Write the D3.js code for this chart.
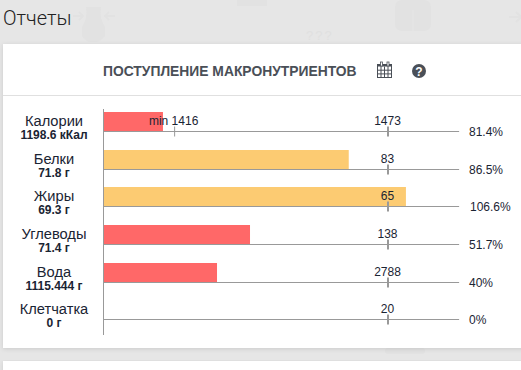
<!DOCTYPE html>
<html>
<head>
<meta charset="utf-8">
<script src="https://cdn.jsdelivr.net/npm/d3@7"></script>
<style>
  html, body { margin: 0; padding: 0; background: #e6e6e6; overflow: hidden; }
  text { font-family: "Liberation Sans", Arial, sans-serif; fill: #1a2433; }
</style>
</head>
<body>
<div id="chart"></div>
<script>
const categories = ['Калории', 'Белки', 'Жиры', 'Углеводы', 'Вода', 'Клетчатка'];
const intake = ['1198.6 кКал', '71.8 г', '69.3 г', '71.4 г', '1115.444 г', '0 г'];
const barPercent = [20.9, 86.2, 106.3, 51.5, 39.9, 0];
const percentLabels = ['81.4%', '86.5%', '106.6%', '51.7%', '40%', '0%'];
const targets = [1473, 83, 65, 138, 2788, 20];

const width = 521, height = 370;
const rowY = [131.5, 169.5, 206.5, 244.5, 282.5, 319.5];
const barH = 19.5;

const svg = d3.select('#chart').append('svg')
  .attr('width', width)
  .attr('height', height)
  .style('display', 'block');

const defs = svg.append('defs');
const blur = defs.append('filter').attr('id', 'shadow')
  .attr('x', '-5%').attr('y', '-5%').attr('width', '110%').attr('height', '110%');
blur.append('feDropShadow').attr('dx', 0).attr('dy', 1).attr('stdDeviation', 2)
  .attr('flood-color', '#000').attr('flood-opacity', 0.12);

// faint background icons
const bg = svg.append('g').attr('fill', '#e2e2e2');
bg.append('path').attr('d', 'M86 7 L101 7 Q99 18 105 27 L105 36 Q100 42 96 42 L91 42 Q86 42 82 36 L82 27 Q88 18 86 7 Z');
bg.append('rect').attr('x', 395).attr('y', 0).attr('width', 36).attr('height', 31).attr('rx', 7);
bg.append('rect').attr('x', 237).attr('y', 0).attr('width', 30).attr('height', 6);
bg.append('rect').attr('x', 385).attr('y', 348).attr('width', 40).attr('height', 6).attr('rx', 3);
const arrows = svg.append('g').attr('stroke', '#e2e2e2').attr('stroke-width', 2).attr('fill', 'none');
arrows.append('path').attr('d', 'M73 16 H83 M79 12 L83 16 L79 20');
arrows.append('path').attr('d', 'M115 16 H105 M109 12 L105 16 L109 20');
arrows.append('path').attr('d', 'M509 17 H521 M516 12 L521 17 L516 22');
svg.append('line').attr('x1', 413).attr('x2', 413).attr('y1', 10).attr('y2', 31).attr('stroke', '#e6e6e6');
svg.append('text').attr('x', 306).attr('y', 40)
  .style('font-size', '13px').style('fill', '#e0e0e0').style('letter-spacing', '2px').text('???');

// cards
svg.append('rect').attr('x', 3).attr('y', 44).attr('width', 530).attr('height', 304)
  .attr('fill', '#fff').attr('filter', 'url(#shadow)');
svg.append('rect').attr('x', 3).attr('y', 361).attr('width', 530).attr('height', 20)
  .attr('fill', '#fff').attr('filter', 'url(#shadow)');
svg.append('line').attr('x1', 3).attr('x2', width).attr('y1', 95.5).attr('y2', 95.5)
  .attr('stroke', '#e0e0e0');

svg.append('text').attr('x', 3).attr('y', 25)
  .style('font-family', 'Roboto, sans-serif').style('font-size', '20px').style('font-weight', 300)
  .style('fill', '#222').text('Отчеты');
svg.append('text').attr('x', 103).attr('y', 76)
  .style('font-size', '13.85px').style('font-weight', 700).style('fill', '#4a4f57')
  .text('ПОСТУПЛЕНИЕ МАКРОНУТРИЕНТОВ');

// calendar icon
const cal = svg.append('g').attr('transform', 'translate(377.5,64.5)');
cal.append('rect').attr('width', 14).attr('height', 13).attr('fill', '#fff')
  .attr('stroke', '#4a4f57').attr('stroke-width', 1);
cal.append('rect').attr('width', 14).attr('height', 2).attr('fill', '#4a4f57');
d3.range(1, 4).forEach(i => {
  cal.append('line').attr('x1', i * 3.5).attr('x2', i * 3.5).attr('y1', 2).attr('y2', 13).attr('stroke', '#4a4f57').attr('stroke-width', 1);
});
d3.range(1, 3).forEach(i => {
  cal.append('line').attr('x1', 0).attr('x2', 14).attr('y1', 2 + i * 3.7).attr('y2', 2 + i * 3.7).attr('stroke', '#4a4f57').attr('stroke-width', 1);
});
cal.selectAll('.ring').data([3, 9.5]).enter().append('rect')
  .attr('x', d => d).attr('y', -2.5).attr('width', 2).attr('height', 4).attr('fill', '#fff')
  .attr('stroke', '#4a4f57').attr('stroke-width', 0.8);

// help icon
svg.append('circle').attr('cx', 419).attr('cy', 71).attr('r', 7).attr('fill', '#4a4f57');
svg.append('text').attr('x', 419).attr('y', 75.5).attr('text-anchor', 'middle')
  .style('font-size', '12px').style('font-weight', 700).style('fill', '#fff').text('?');

// scales: 100% of the target sits at the tick
const x = d3.scaleLinear().domain([0, 100]).range([103.5, 388]);
const y = d3.scaleOrdinal().domain(categories).range(rowY);

const rows = svg.selectAll('.row').data(categories).enter().append('g')
  .attr('class', 'row')
  .attr('transform', d => 'translate(0,' + y(d) + ')');

rows.append('rect')
  .attr('x', x(0))
  .attr('y', -barH)
  .attr('width', (d, i) => x(barPercent[i]) - x(0))
  .attr('height', barH)
  .attr('fill', (d, i) => barPercent[i] > 80 ? '#fccb72' : '#ff6868');

rows.append('line')
  .attr('x1', x(0)).attr('x2', x(125))
  .attr('y1', 0).attr('y2', 0)
  .attr('stroke', '#999');

rows.append('line')
  .attr('x1', x(100)).attr('x2', x(100))
  .attr('y1', -5).attr('y2', 5)
  .attr('stroke', '#999').attr('stroke-width', 2);

rows.append('text')
  .attr('x', x(100) - 0.5).attr('y', -7).attr('text-anchor', 'middle')
  .style('font-size', '12px')
  .text((d, i) => targets[i]);

rows.append('text')
  .attr('x', (d, i) => percentLabels[i] === '106.6%' ? 470 : 469)
  .attr('y', 4.5)
  .style('font-size', '12px')
  .text((d, i) => percentLabels[i]);

rows.append('text')
  .attr('x', 54).attr('y', -6).attr('text-anchor', 'middle')
  .style('font-size', '14.67px')
  .text(d => d);

rows.append('text')
  .attr('x', 54).attr('y', 7).attr('text-anchor', 'middle')
  .style('font-size', '12px').style('font-weight', 700)
  .text((d, i) => intake[i]);

// min marker on the first row only
const minRow = svg.append('g').attr('transform', 'translate(0,' + rowY[0] + ')');
minRow.append('line').attr('x1', x(25)).attr('x2', x(25)).attr('y1', -5).attr('y2', 5)
  .attr('stroke', '#999');
minRow.append('text').attr('x', x(25) - 1).attr('y', -7).attr('text-anchor', 'middle')
  .style('font-size', '12px').text('min 1416');

// vertical axis
svg.append('line').attr('x1', 103.5).attr('x2', 103.5).attr('y1', 109).attr('y2', 335)
  .attr('stroke', '#999');
</script>
</body>
</html>
